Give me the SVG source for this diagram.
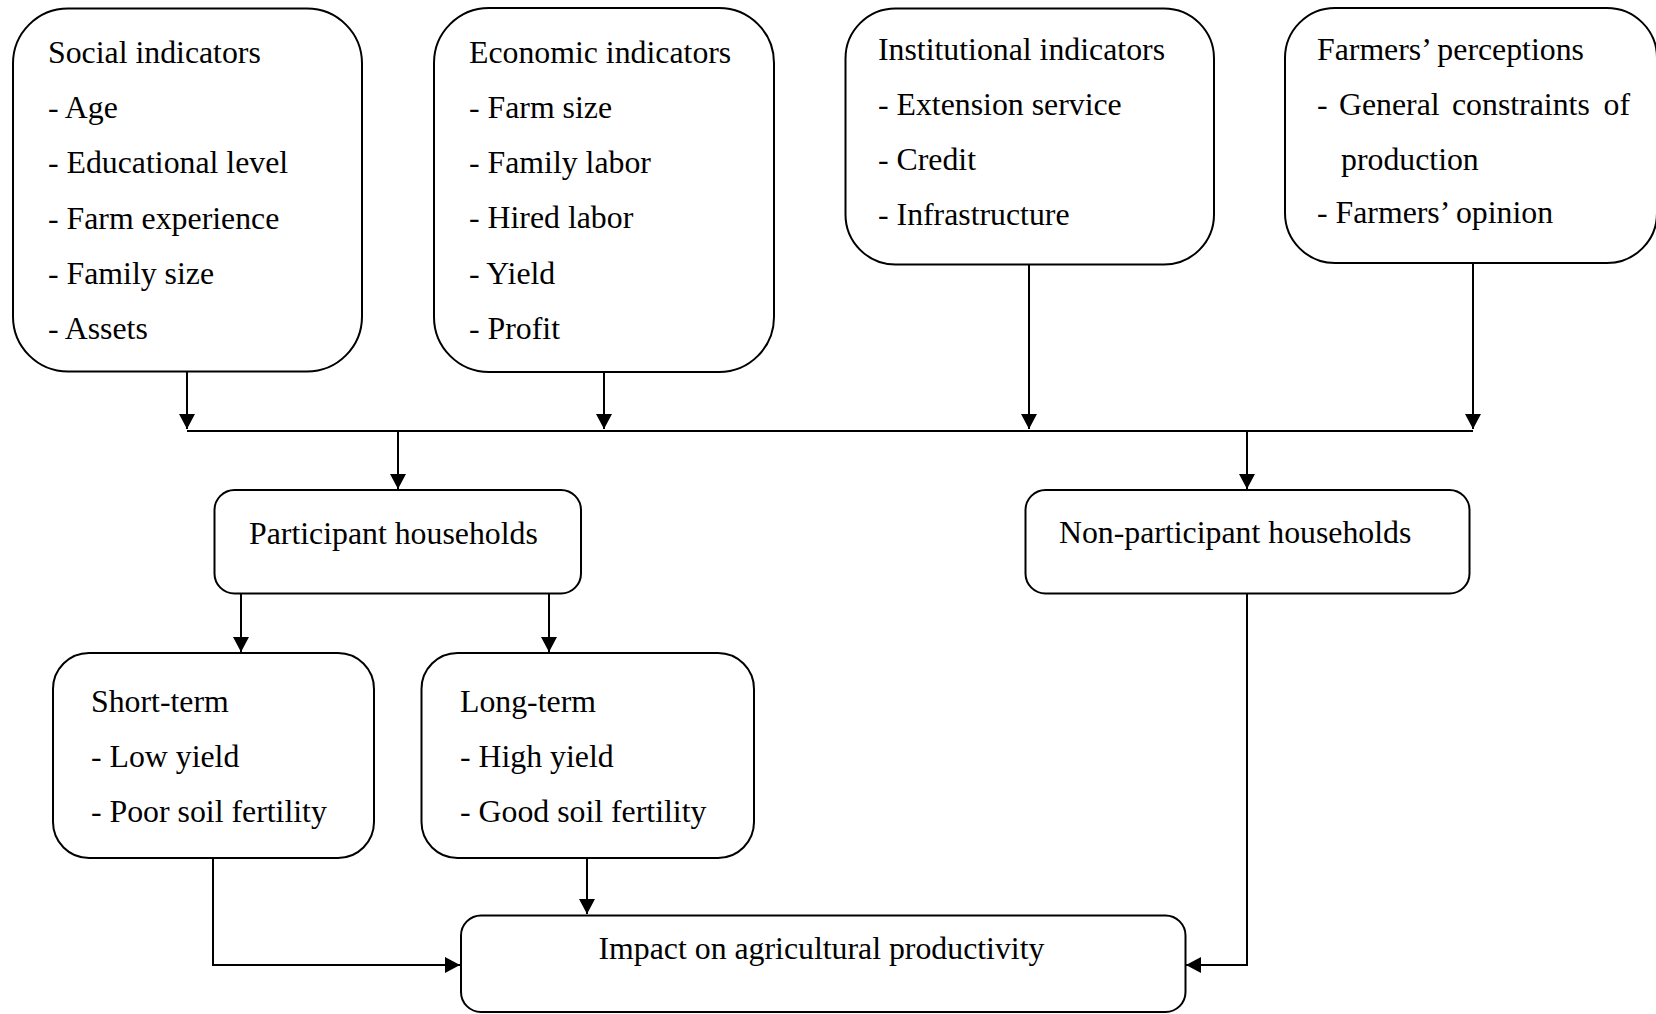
<svg xmlns="http://www.w3.org/2000/svg" width="1656" height="1014" viewBox="0 0 1656 1014">
<defs>
<style>
.box{fill:#fff;stroke:#000;stroke-width:2}
.t{font-family:"Liberation Serif","Times New Roman",serif;font-size:31.8px;fill:#000}
.c{fill:none;stroke:#000;stroke-width:2}
</style>
<marker id="ah" markerUnits="userSpaceOnUse" markerWidth="16" markerHeight="16" refX="15" refY="8" orient="auto">
<path d="M0,0 L15,8 L0,16 Z" fill="#000"/>
</marker>
</defs>
<rect width="1656" height="1014" fill="#fff"/>
<g id="connectors">
<path class="c" d="M187,372 V429" marker-end="url(#ah)"/>
<path class="c" d="M604,372 V429" marker-end="url(#ah)"/>
<path class="c" d="M1029,265 V429" marker-end="url(#ah)"/>
<path class="c" d="M1473,263 V429" marker-end="url(#ah)"/>
<path class="c" d="M187,431 H1473"/>
<path class="c" d="M398,431 V489" marker-end="url(#ah)"/>
<path class="c" d="M1247,431 V489" marker-end="url(#ah)"/>
<path class="c" d="M241,594 V652" marker-end="url(#ah)"/>
<path class="c" d="M549,594 V652" marker-end="url(#ah)"/>
<path class="c" d="M213,858 V965 H460" marker-end="url(#ah)"/>
<path class="c" d="M587,858 V914" marker-end="url(#ah)"/>
<path class="c" d="M1247,594 V965 H1186" marker-end="url(#ah)"/>
</g>
<g id="social">
<rect class="box" x="13" y="8.5" width="349" height="363" rx="55" ry="55"/>
<text class="t" x="48" y="63">Social indicators</text>
<text class="t" x="48" y="118">- Age</text>
<text class="t" x="48" y="173">- Educational level</text>
<text class="t" x="48" y="229">- Farm experience</text>
<text class="t" x="48" y="284">- Family size</text>
<text class="t" x="48" y="339">- Assets</text>
</g>
<g id="economic">
<rect class="box" x="434" y="8" width="340" height="364" rx="55" ry="55"/>
<text class="t" x="469" y="63">Economic indicators</text>
<text class="t" x="469" y="118">- Farm size</text>
<text class="t" x="469" y="173">- Family labor</text>
<text class="t" x="469" y="228">- Hired labor</text>
<text class="t" x="469" y="284">- Yield</text>
<text class="t" x="469" y="339">- Profit</text>
</g>
<g id="institutional">
<rect class="box" x="845.5" y="8.5" width="368.5" height="256" rx="50" ry="50"/>
<text class="t" x="878" y="60">Institutional indicators</text>
<text class="t" x="878" y="115">- Extension service</text>
<text class="t" x="878" y="170">- Credit</text>
<text class="t" x="878" y="225">- Infrastructure</text>
</g>
<g id="perceptions">
<rect class="box" x="1285" y="8" width="372" height="255" rx="50" ry="50"/>
<text class="t" x="1317" y="60">Farmers’ perceptions</text>
<text class="t" x="1317" y="115">-</text>
<text class="t" x="1339" y="115">General</text>
<text class="t" x="1452" y="115">constraints</text>
<text class="t" x="1630" y="115" text-anchor="end">of</text>
<text class="t" x="1341" y="170">production</text>
<text class="t" x="1317" y="223">- Farmers’ opinion</text>
</g>
<g id="participant">
<rect class="box" x="214.5" y="490" width="366.5" height="103.5" rx="20" ry="20"/>
<text class="t" x="249" y="544">Participant households</text>
</g>
<g id="nonparticipant">
<rect class="box" x="1025.5" y="490" width="444" height="103.5" rx="20" ry="20"/>
<text class="t" x="1059" y="543">Non-participant households</text>
</g>
<g id="shortterm">
<rect class="box" x="53" y="653" width="321" height="205" rx="36" ry="36"/>
<text class="t" x="91" y="712">Short-term</text>
<text class="t" x="91" y="767">- Low yield</text>
<text class="t" x="91" y="822">- Poor soil fertility</text>
</g>
<g id="longterm">
<rect class="box" x="421.5" y="653" width="332.5" height="205" rx="36" ry="36"/>
<text class="t" x="460" y="712">Long-term</text>
<text class="t" x="460" y="767">- High yield</text>
<text class="t" x="460" y="822">- Good soil fertility</text>
</g>
<g id="impact">
<rect class="box" x="461" y="915.5" width="724.5" height="96.5" rx="20" ry="20"/>
<text class="t" x="598.5" y="958.5">Impact on agricultural productivity</text>
</g>
</svg>
